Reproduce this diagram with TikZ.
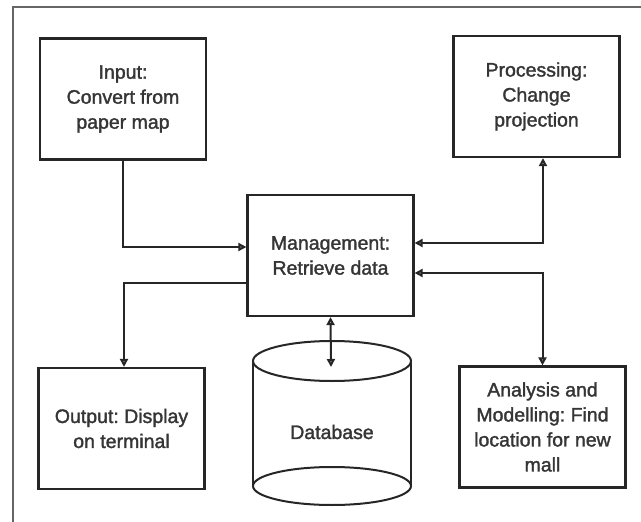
\documentclass[tikz,border=0pt]{standalone}
\usepackage{fontspec}
\setmainfont{Liberation Sans}
\newfontfamily\stagefont{Liberation Sans}[RawFeature={embolden=1.6}]
\usetikzlibrary{arrows.meta}
\frenchspacing

\definecolor{ink}{HTML}{262626}
\definecolor{txt}{HTML}{353535}

\begin{document}
\begin{tikzpicture}[x=1pt,y=-1pt,
    stage/.style={draw=ink, line width=2.2pt, minimum width=166pt, minimum height=121pt,
        align=center, text=txt, font=\stagefont\fontsize{19.5}{25}\selectfont, inner sep=0pt},
    link/.style={draw=ink, line width=2pt,
        >={Triangle[length=8pt,width=8pt,fill=gray!70]}}]
    \useasboundingbox (0,0) rectangle (641,522);
    % frame
    \draw [gray!80!black, line width=1.3pt] (13,522) -- (13,7) -- (641,7);
    % the five stages
    \node [stage] (input) at (123,99) {Input:\\Convert from\\paper map};
    \node [stage] (proc) at (536.5,96.5) {Processing:\\Change\\projection};
    \node [stage] (mgmt) at (330.5,255.5) {Management:\\Retrieve data};
    \node [stage] (output) at (121.5,428.5) {Output: Display\\on terminal};
    \node [stage] (ana) at (542.5,427) {Analysis and\\Modelling: Find\\location for new\\mall};
    % database drum
    \draw [ink, line width=2pt] (253,361) -- (253,486) (411,361) -- (411,486);
    \draw [ink, line width=2pt, fill=white] (332,361) ellipse (79 and 20);
    \draw [ink, line width=2pt] (332,486) ellipse (79 and 19);
    \node [text=txt, font=\stagefont\fontsize{19.5}{25}\selectfont] (db) at (332,432) {Database};
    \coordinate (dbin) at (331,367);
    % connectors
    \draw [link, ->] (input.south) |- ([yshift=8.5pt]mgmt.west);
    \draw [link, <->] ([yshift=12.5pt]mgmt.east) -| ([xshift=6.5pt]proc.south);
    \draw [link, ->] ([yshift=-27.5pt]mgmt.west) -| ([xshift=2.5pt]output.north);
    \draw [link, <->] ([yshift=-17.5pt]mgmt.east) -| (ana.north);
    \draw [link, <->] (mgmt.south) -- (dbin);
\end{tikzpicture}
\end{document}
